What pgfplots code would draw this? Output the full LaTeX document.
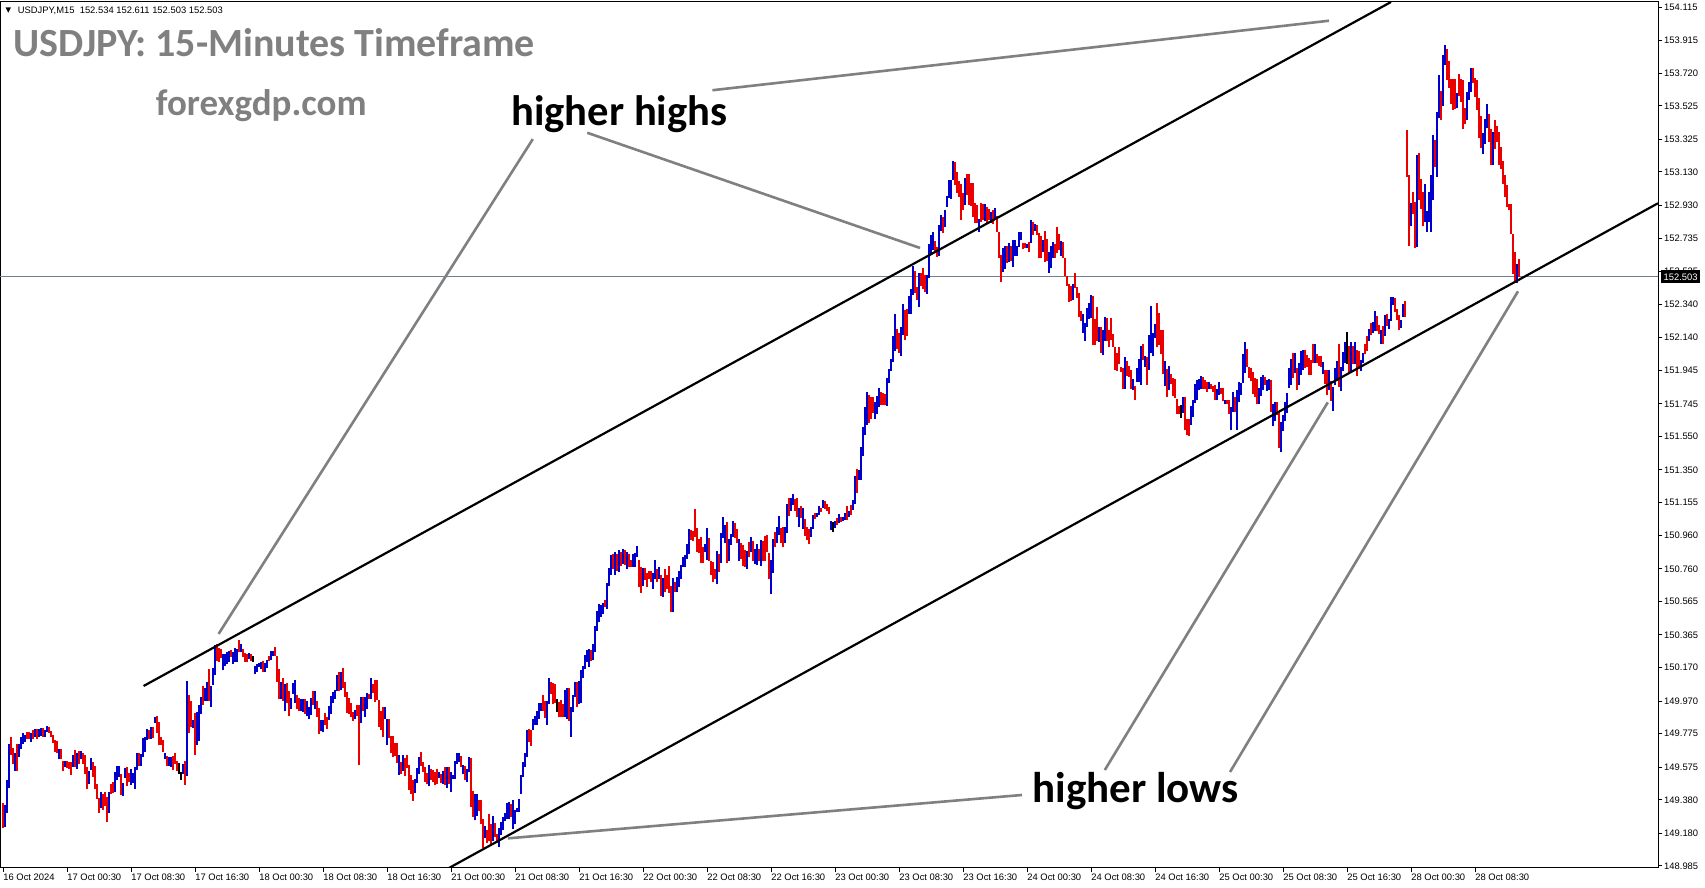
\documentclass[border=0pt]{standalone}
\usepackage{fontspec}
\setmainfont{Liberation Sans}
\newfontfamily\calib{Carlito}
\newfontfamily\dejavu{DejaVu Sans}
\usepackage{pgfplots}
\usepackage{pgfplotstable}
\pgfplotsset{compat=1.18}
\definecolor{barred}{RGB}{235,0,0}
\definecolor{barblue}{RGB}{0,0,205}
\definecolor{annogray}{RGB}{128,128,128}
\definecolor{pricegray}{RGB}{112,128,144}

\pgfplotstableread{
lo hi c
149.213 149.361 0
149.217 149.347 1
149.301 149.497 1
149.451 149.713 1
149.647 149.753 0
149.593 149.687 0
149.553 149.661 1
149.553 149.713 0
149.633 149.713 1
149.685 149.753 1
149.713 149.777 1
149.727 149.767 1
149.745 149.785 0
149.745 149.785 0
149.727 149.781 1
149.741 149.797 0
149.757 149.801 1
149.741 149.805 0
149.757 149.805 1
149.761 149.809 1
149.757 149.809 0
149.757 149.797 1
149.785 149.821 1
149.781 149.813 0
149.753 149.793 0
149.721 149.765 0
149.667 149.737 0
149.657 149.729 0
149.621 149.685 1
149.621 149.681 0
149.553 149.609 0
149.577 149.613 1
149.569 149.609 0
149.567 149.609 0
149.527 149.609 0
149.577 149.645 1
149.577 149.677 0
149.567 149.657 1
149.593 149.673 0
149.621 149.673 1
149.593 149.657 0
149.533 149.649 0
149.445 149.577 0
149.473 149.553 1
149.561 149.629 1
149.517 149.607 0
149.445 149.581 0
149.385 149.477 0
149.301 149.389 0
149.329 149.429 1
149.321 149.417 0
149.345 149.425 0
149.245 149.397 0
149.301 149.425 1
149.413 149.477 0
149.421 149.485 0
149.429 149.545 1
149.501 149.585 1
149.517 149.585 1
149.409 149.533 0
149.401 149.481 1
149.513 149.573 1
149.465 149.577 0
149.485 149.541 0
149.469 149.565 1
149.481 149.541 1
149.445 149.577 1
149.557 149.657 1
149.585 149.657 0
149.585 149.653 1
149.637 149.749 1
149.665 149.753 1
149.737 149.805 1
149.741 149.797 0
149.745 149.813 1
149.749 149.817 0
149.841 149.877 1
149.781 149.881 0
149.705 149.845 0
149.709 149.753 0
149.665 149.737 0
149.625 149.661 1
149.581 149.641 0
149.585 149.633 1
149.577 149.637 1
149.557 149.641 0
149.593 149.661 0
149.553 149.609 0
149.537 149.601 2
149.497 149.545 2
149.533 149.593 1
149.467 149.609 0
149.521 150.089 1
149.777 150.009 0
149.813 149.969 0
149.809 149.857 1
149.649 149.897 0
149.709 149.905 1
149.733 149.945 1
149.893 149.997 1
149.945 150.061 0
149.973 150.049 1
149.969 150.085 1
149.969 150.161 0
149.937 150.057 1
150.065 150.165 1
150.125 150.305 1
150.209 150.313 0
150.205 150.289 0
150.225 150.281 0
150.153 150.249 1
150.181 150.249 1
150.189 150.265 1
150.201 150.269 1
150.233 150.273 0
150.193 150.265 1
150.201 150.289 1
150.201 150.281 1
150.261 150.333 0
150.261 150.309 1
150.233 150.281 0
150.205 150.257 0
150.201 150.253 0
150.221 150.257 1
150.209 150.249 0
150.205 150.241 2
150.133 150.177 1
150.145 150.193 1
150.173 150.197 1
150.161 150.201 1
150.141 150.209 0
150.141 150.197 1
150.169 150.213 1
150.209 150.237 0
150.217 150.269 1
150.237 150.269 1
150.241 150.293 0
150.081 150.241 0
149.985 150.161 0
149.985 150.085 1
149.969 150.105 0
149.909 150.073 1
149.961 150.077 0
149.881 150.033 0
149.921 149.989 1
150.013 150.077 1
149.961 150.097 1
149.921 150.005 0
149.913 149.989 0
149.909 149.985 1
149.905 149.985 1
149.893 149.985 0
149.881 149.973 1
149.865 149.933 1
149.889 149.989 1
149.945 150.029 0
149.925 150.033 1
149.877 149.973 0
149.773 149.929 0
149.789 149.857 1
149.785 149.857 1
149.825 149.901 0
149.805 149.873 0
149.857 149.941 1
149.893 150.001 1
149.957 150.027 1
149.981 150.037 1
150.033 150.125 1
150.029 150.145 0
150.037 150.145 1
150.045 150.169 0
149.997 150.085 0
149.897 150.025 0
149.893 149.989 0
149.877 149.961 0
149.849 149.905 0
149.861 149.917 1
149.881 149.945 0
149.589 149.945 0
149.837 149.997 1
149.913 149.997 0
149.877 149.997 1
149.925 150.017 1
149.985 150.013 0
149.981 150.109 1
150.021 150.073 0
149.965 150.093 0
149.977 150.097 0
149.813 149.977 0
149.797 149.913 0
149.757 149.933 0
149.861 149.937 1
149.705 149.861 1
149.749 149.865 0
149.657 149.761 0
149.637 149.761 0
149.641 149.721 0
149.601 149.717 0
149.529 149.649 1
149.537 149.605 0
149.553 149.645 1
149.525 149.629 0
149.573 149.649 0
149.437 149.589 0
149.417 149.529 0
149.373 149.497 0
149.421 149.505 1
149.481 149.569 1
149.537 149.637 1
149.585 149.665 0
149.545 149.605 0
149.489 149.577 0
149.473 149.541 0
149.461 149.589 1
149.497 149.565 0
149.489 149.561 0
149.469 149.549 0
149.473 149.565 0
149.513 149.549 1
149.481 149.537 0
149.477 149.553 1
149.469 149.577 0
149.453 149.577 1
149.477 149.577 0
149.429 149.545 1
149.505 149.529 1
149.505 149.609 1
149.593 149.657 1
149.605 149.657 1
149.577 149.641 0
149.537 149.589 1
149.497 149.585 0
149.489 149.565 1
149.545 149.637 1
149.337 149.629 0
149.277 149.433 0
149.257 149.413 1
149.285 149.417 1
149.313 149.381 0
149.237 149.377 0
149.093 149.265 0
149.153 149.225 1
149.125 149.201 0
149.133 149.293 0
149.109 149.237 0
149.133 149.281 1
149.157 149.241 0
149.121 149.177 0
149.097 149.213 1
149.173 149.245 1
149.201 149.277 1
149.253 149.301 1
149.265 149.361 1
149.265 149.365 1
149.277 149.357 0
149.205 149.377 1
149.237 149.317 1
149.305 149.329 1
149.305 149.385 1
149.417 149.529 1
149.517 149.605 1
149.577 149.661 1
149.633 149.797 1
149.725 149.801 0
149.701 149.797 0
149.797 149.865 1
149.829 149.881 1
149.829 149.909 1
149.865 149.961 1
149.913 149.957 1
149.913 150.005 0
149.869 149.969 0
149.829 149.969 1
149.953 150.105 1
150.013 150.085 0
149.953 150.077 0
149.961 150.073 0
149.905 149.981 2
149.873 149.965 0
149.877 149.977 0
149.873 149.953 0
149.877 150.037 1
149.865 150.045 1
149.849 150.045 0
149.757 149.937 1
149.905 150.009 1
149.993 150.085 1
149.937 150.085 0
149.953 150.089 1
149.961 150.157 1
150.105 150.181 1
150.161 150.245 1
150.205 150.273 1
150.173 150.281 1
150.209 150.277 0
150.217 150.309 1
150.265 150.417 1
150.389 150.509 1
150.445 150.549 1
150.473 150.545 1
150.489 150.553 1
150.529 150.573 0
150.517 150.673 1
150.657 150.765 1
150.725 150.840 1
150.757 150.850 0
150.725 150.860 1
150.749 150.850 0
150.741 150.870 1
150.777 150.860 0
150.790 150.880 1
150.780 150.870 0
150.760 150.860 1
150.770 150.850 0
150.768 150.812 0
150.772 150.848 1
150.772 150.856 1
150.828 150.896 1
150.652 150.812 0
150.616 150.768 0
150.660 150.764 1
150.692 150.764 0
150.652 150.732 0
150.700 150.748 0
150.680 150.744 0
150.640 150.732 1
150.696 150.812 1
150.680 150.760 0
150.696 150.768 1
150.600 150.720 0
150.592 150.704 1
150.620 150.760 0
150.640 150.724 0
150.616 150.776 0
150.504 150.656 0
150.504 150.704 1
150.620 150.680 0
150.620 150.708 1
150.652 150.748 1
150.700 150.780 1
150.768 150.832 1
150.772 150.840 1
150.820 150.908 1
150.848 150.996 1
150.932 150.992 0
150.924 150.988 0
150.952 151.116 0
150.860 151.004 0
150.852 150.940 0
150.792 150.948 0
150.792 150.888 0
150.860 150.908 1
150.812 151.004 1
150.808 150.944 0
150.724 150.808 0
150.680 150.800 0
150.700 150.756 0
150.672 150.864 1
150.740 150.848 0
150.792 150.972 1
150.944 151.072 1
150.912 151.024 1
150.796 151.040 0
150.804 150.936 1
150.900 150.968 1
150.952 151.048 1
150.944 151.032 0
150.912 150.996 0
150.804 150.940 1
150.820 150.912 0
150.776 150.900 0
150.772 150.872 0
150.756 150.864 1
150.832 150.920 0
150.860 150.948 1
150.808 150.924 0
150.788 150.876 1
150.780 150.908 1
150.804 150.880 0
150.776 150.932 1
150.804 150.928 0
150.808 150.956 0
150.860 150.960 0
150.696 150.856 0
150.612 150.812 1
150.732 150.936 1
150.888 150.980 0
150.912 151.012 1
150.960 151.076 1
150.916 151.004 0
150.892 151.012 0
150.912 151.008 1
150.972 151.144 1
151.076 151.180 0
151.108 151.180 1
151.140 151.204 1
151.108 151.176 0
151.072 151.180 0
151.008 151.124 1
151.064 151.136 0
150.996 151.120 1
150.956 151.060 0
150.932 151.008 0
150.908 151.000 0
150.952 151.008 1
151.000 151.084 1
151.060 151.092 0
151.068 151.092 1
151.080 151.136 1
151.100 151.124 0
151.120 151.168 1
151.116 151.164 0
151.104 151.144 0
151.088 151.128 0
150.992 151.048 1
150.980 151.040 2
151.004 151.048 1
151.020 151.064 0
151.032 151.088 1
151.040 151.072 0
151.048 151.072 1
151.052 151.092 1
151.052 151.136 0
151.068 151.108 1
151.084 151.140 0
151.112 151.172 1
151.144 151.312 1
151.212 151.356 0
151.288 151.348 1
151.292 151.488 1
151.436 151.608 1
151.560 151.728 1
151.620 151.816 1
151.632 151.796 0
151.656 151.788 0
151.692 151.788 0
151.656 151.756 1
151.684 151.792 1
151.728 151.840 1
151.740 151.816 0
151.736 151.808 0
151.736 151.804 0
151.732 151.900 1
151.868 151.956 1
151.940 152.012 1
151.996 152.148 1
152.060 152.280 1
152.072 152.192 0
152.048 152.168 0
152.028 152.204 1
152.156 152.344 1
152.128 152.304 0
152.152 152.312 0
152.284 152.392 1
152.280 152.428 1
152.396 152.568 1
152.408 152.540 0
152.364 152.444 0
152.324 152.524 1
152.448 152.524 0
152.428 152.556 0
152.412 152.512 0
152.404 152.516 1
152.496 152.700 1
152.632 152.752 1
152.664 152.772 1
152.648 152.720 0
152.620 152.684 0
152.628 152.812 1
152.776 152.872 1
152.768 152.860 0
152.800 152.900 1
152.920 152.984 1
152.976 153.084 1
152.971 153.083 1
153.083 153.195 1
153.051 153.191 0
153.007 153.131 0
152.979 153.075 0
152.843 153.059 0
152.903 153.007 0
152.931 153.095 1
152.991 153.119 0
152.935 153.115 0
152.927 153.063 0
152.863 153.063 0
152.827 152.947 0
152.823 152.935 0
152.771 152.851 1
152.831 152.943 0
152.843 152.939 0
152.835 152.939 1
152.827 152.923 0
152.843 152.907 0
152.827 152.891 1
152.819 152.903 0
152.843 152.915 1
152.771 152.867 0
152.619 152.771 0
152.475 152.631 0
152.534 152.678 1
152.550 152.690 1
152.586 152.690 0
152.590 152.706 1
152.598 152.686 0
152.562 152.726 1
152.630 152.722 1
152.630 152.690 1
152.682 152.774 1
152.722 152.774 1
152.670 152.706 0
152.674 152.706 0
152.674 152.698 1
152.654 152.710 0
152.706 152.842 1
152.754 152.834 0
152.778 152.818 1
152.754 152.814 0
152.614 152.766 0
152.614 152.746 0
152.650 152.726 1
152.594 152.778 0
152.598 152.730 0
152.526 152.654 1
152.554 152.690 1
152.614 152.710 1
152.614 152.702 0
152.646 152.802 0
152.666 152.758 0
152.630 152.718 1
152.618 152.710 0
152.506 152.618 0
152.446 152.506 0
152.354 152.462 0
152.358 152.450 0
152.366 152.462 1
152.438 152.526 0
152.378 152.442 0
152.266 152.406 0
152.242 152.298 0
152.166 152.282 1
152.118 152.226 1
152.202 152.318 1
152.254 152.346 1
152.258 152.394 1
152.094 152.390 0
152.094 152.250 0
152.122 152.322 0
152.114 152.202 1
152.050 152.202 0
152.038 152.186 1
152.122 152.266 1
152.118 152.258 0
152.082 152.186 0
152.126 152.258 0
152.082 152.162 0
151.946 152.086 0
151.942 152.050 0
151.982 152.082 0
151.934 151.966 0
151.834 151.962 0
151.834 152.026 1
151.914 152.002 0
151.906 151.974 0
151.834 151.946 0
151.830 151.894 1
151.770 151.854 0
151.874 151.962 1
151.878 152.014 1
151.858 152.090 1
152.006 152.102 0
151.966 152.030 1
151.858 152.022 0
151.950 152.158 1
152.050 152.330 1
152.030 152.166 1
152.138 152.222 1
152.082 152.346 0
152.094 152.286 0
152.042 152.186 0
151.926 152.186 0
151.850 152.002 1
151.786 151.954 0
151.826 151.970 1
151.866 151.922 0
151.790 151.898 0
151.778 151.894 0
151.682 151.774 0
151.682 151.734 0
151.662 151.738 2
151.690 151.786 1
151.586 151.786 0
151.558 151.654 0
151.554 151.654 0
151.618 151.730 1
151.666 151.770 1
151.750 151.866 1
151.770 151.886 1
151.826 151.894 1
151.834 151.910 1
151.834 151.906 0
151.834 151.890 0
151.814 151.878 0
151.834 151.874 1
151.834 151.862 0
151.814 151.850 0
151.766 151.858 0
151.766 151.834 1
151.798 151.874 1
151.806 151.842 0
151.762 151.842 0
151.742 151.766 1
151.742 151.766 0
151.686 151.770 0
151.590 151.726 1
151.698 151.818 1
151.698 151.786 0
151.590 151.826 1
151.758 151.878 1
151.798 151.870 1
151.870 152.042 1
151.930 152.114 1
151.966 152.074 0
151.898 151.966 0
151.882 151.962 0
151.802 151.934 0
151.786 151.902 0
151.746 151.894 0
151.746 151.838 1
151.792 151.908 1
151.828 151.916 1
151.856 151.904 0
151.824 151.888 1
151.828 151.892 1
151.696 151.888 0
151.612 151.744 1
151.640 151.756 1
151.680 151.756 0
151.484 151.696 0
151.456 151.636 1
151.580 151.680 1
151.640 151.756 1
151.692 151.808 1
151.840 151.960 1
151.860 152.012 1
151.900 152.048 0
151.928 152.048 1
151.828 151.960 0
151.856 151.988 1
151.916 152.060 1
151.948 152.068 1
151.960 152.068 0
151.964 152.036 0
151.916 152.016 0
151.916 152.008 0
151.988 152.100 0
151.988 152.104 1
151.988 152.040 0
151.972 152.032 0
151.968 152.028 0
151.924 151.992 1
151.864 151.948 0
151.800 151.948 0
151.828 151.948 1
151.764 151.884 0
151.704 151.848 1
151.860 151.960 1
151.880 152.000 1
151.848 152.104 0
151.824 151.968 1
151.940 152.052 1
151.988 152.116 1
151.980 152.176 2
151.932 152.088 0
151.932 152.116 1
151.980 152.088 0
151.980 152.112 1
151.912 152.064 0
151.952 152.060 0
151.944 152.008 1
151.988 152.048 1
152.040 152.104 0
152.060 152.152 0
152.120 152.194 1
152.156 152.230 0
152.168 152.234 1
152.182 152.302 1
152.182 152.270 0
152.160 152.214 0
152.104 152.188 1
152.100 152.210 0
152.148 152.278 1
152.210 152.282 0
152.190 152.250 1
152.242 152.386 1
152.338 152.382 1
152.294 152.378 0
152.246 152.314 0
152.186 152.278 0
152.198 152.246 1
152.262 152.342 1
152.266 152.362 0
153.102 153.382 0
152.686 153.110 0
152.806 152.946 1
152.878 153.010 0
152.678 152.950 0
152.682 153.230 1
152.962 153.242 0
152.906 153.086 0
152.806 153.010 0
152.834 153.058 1
152.770 152.894 1
152.830 153.010 1
152.770 153.114 1
152.962 153.350 1
153.158 153.318 0
153.102 153.490 1
153.454 153.706 1
153.442 153.614 0
153.522 153.826 1
153.766 153.890 1
153.682 153.862 0
153.630 153.794 0
153.538 153.686 0
153.502 153.686 0
153.506 153.686 0
153.510 153.602 1
153.582 153.714 0
153.550 153.686 0
153.386 153.682 0
153.414 153.510 0
153.438 153.610 1
153.562 153.666 1
153.610 153.750 1
153.662 153.750 0
153.578 153.690 0
153.498 153.682 0
153.334 153.574 0
153.270 153.466 0
153.238 153.362 1
153.298 153.446 1
153.390 153.538 1
153.306 153.478 0
153.170 153.386 0
153.170 153.366 1
153.266 153.438 0
153.306 153.402 0
153.170 153.370 0
153.146 153.278 0
153.058 153.194 0
152.978 153.110 0
152.922 153.050 0
152.902 152.938 0
152.758 152.938 0
152.522 152.758 0
152.468 152.654 0
152.468 152.582 1
152.503 152.611 0
}\bars

\begin{document}
\begin{tikzpicture}
\useasboundingbox (0,0) rectangle (852.5pt,444pt);
\begin{axis}[
  at={(0pt,10pt)}, anchor=south west,
  scale only axis, width=829pt, height=433pt,
  xmin=-1.5, xmax=827.5, ymin=148.973, ymax=154.145,
  axis line style={line width=0.5pt, black},
  tick style={line width=0.5pt, black},
  tick align=outside, major tick length=2pt,
  xtick pos=left, ytick pos=right,
  xticklabel pos=left, yticklabel pos=right,
  xtick={0,32,...,736},
  xticklabels={16 Oct 2024, 17 Oct 00:30, 17 Oct 08:30, 17 Oct 16:30, 18 Oct 00:30, 18 Oct 08:30, 18 Oct 16:30, 21 Oct 00:30, 21 Oct 08:30, 21 Oct 16:30, 22 Oct 00:30, 22 Oct 08:30, 22 Oct 16:30, 23 Oct 00:30, 23 Oct 08:30, 23 Oct 16:30, 24 Oct 00:30, 24 Oct 08:30, 24 Oct 16:30, 25 Oct 00:30, 25 Oct 08:30, 25 Oct 16:30, 28 Oct 00:30, 28 Oct 08:30},
  ytick={148.985,149.180,149.380,149.575,149.775,149.970,150.170,150.365,150.565,150.760,150.960,151.155,151.350,151.550,151.745,151.945,152.140,152.340,152.535,152.735,152.930,153.130,153.325,153.525,153.720,153.915,154.115},
  yticklabels={148.985,149.180,149.380,149.575,149.775,149.970,150.170,150.365,150.565,150.760,150.960,151.155,151.350,151.550,151.745,151.945,152.140,152.340,152.535,152.735,152.930,153.130,153.325,153.525,153.720,153.915,154.115},
  tick label style={font=\fontsize{4.7}{5.5}\selectfont},
  xticklabel style={anchor=north west, inner sep=0.6pt, xshift=-0.6pt},
  yticklabel style={anchor=west, inner sep=0.6pt, xshift=0.3pt},
  clip mode=individual,
]
\addplot[pricegray, line width=0.5pt, forget plot] coordinates {(-1.5,152.503) (827.5,152.503)};

\addplot[draw=none, mark=none, forget plot,
  restrict expr to domain={\thisrow{c}}{0:0},
  error bars/.cd, y dir=plus, y explicit, error mark=none,
  error bar style={line width=0.55pt, draw=barred}]
  table[x expr=\coordindex, y=lo, y error expr=\thisrow{hi}-\thisrow{lo}] {\bars};
\addplot[draw=none, mark=none, forget plot,
  restrict expr to domain={\thisrow{c}}{1:1},
  error bars/.cd, y dir=plus, y explicit, error mark=none,
  error bar style={line width=0.55pt, draw=barblue}]
  table[x expr=\coordindex, y=lo, y error expr=\thisrow{hi}-\thisrow{lo}] {\bars};
\addplot[draw=none, mark=none, forget plot,
  restrict expr to domain={\thisrow{c}}{2:2},
  error bars/.cd, y dir=plus, y explicit, error mark=none,
  error bar style={line width=0.55pt, draw=black}]
  table[x expr=\coordindex, y=lo, y error expr=\thisrow{hi}-\thisrow{lo}] {\bars};

\addplot[black, line width=1.1pt, forget plot] coordinates {(70.3,150.060) (694,154.145)};
\addplot[black, line width=1.1pt, forget plot] coordinates {(223,148.973) (827.5,152.943)};

\draw[annogray, line width=1.3pt] (axis cs:264.9,153.326) -- (axis cs:107.8,150.371);
\draw[annogray, line width=1.3pt] (axis cs:292.1,153.364) -- (axis cs:458.5,152.676);
\draw[annogray, line width=1.3pt] (axis cs:354.7,153.618) -- (axis cs:663,154.033);
\draw[annogray, line width=1.3pt] (axis cs:252.4,149.150) -- (axis cs:509.5,149.409);
\draw[annogray, line width=1.3pt] (axis cs:550.9,149.558) -- (axis cs:662.4,151.754);
\draw[annogray, line width=1.3pt] (axis cs:613.5,149.546) -- (axis cs:757.5,152.417);

\node[anchor=base west, inner sep=0, text=annogray, font=\calib\bfseries\fontsize{20}{24}\selectfont] at (axis cs:5,153.819) {USDJPY: 15-Minutes Timeframe};
\node[anchor=base west, inner sep=0, text=annogray, font=\calib\bfseries\fontsize{18.5}{22}\selectfont] at (axis cs:76.25,153.470) {forexgdp.com};
\node[anchor=base west, inner sep=0, text=black, font=\calib\bfseries\fontsize{21.3}{25}\selectfont] at (axis cs:254,153.407) {higher highs};
\node[anchor=base west, inner sep=0, text=black, font=\calib\bfseries\fontsize{21.5}{25}\selectfont] at (axis cs:514.5,149.367) {higher lows};

\node[inner sep=0, font=\dejavu\fontsize{3.6}{4}\selectfont] at (axis cs:2.75,154.094) {▼};
\node[anchor=west, inner sep=0, font=\fontsize{4.7}{5.5}\selectfont] at (axis cs:7.2,154.094) {USDJPY,M15\ \ 152.534 152.611 152.503 152.503};

\coordinate (pl) at (axis cs:827.5,152.503);
\end{axis}
\node[anchor=west, fill=black, text=white, inner xsep=1.2pt, inner ysep=0pt, minimum height=6.5pt, font=\fontsize{4.7}{5.5}\selectfont] at ([xshift=1.4pt]pl) {152.503};
\end{tikzpicture}
\end{document}
